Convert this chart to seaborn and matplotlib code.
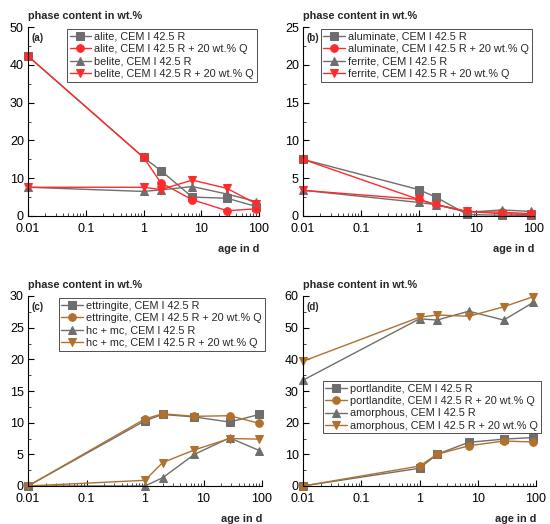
import matplotlib
matplotlib.use("Agg")
import matplotlib.pyplot as plt
import matplotlib.ticker as mticker
import seaborn as sns
import pandas as pd

sns.set_theme(style="ticks")
plt.rcParams['font.family'] = ['Liberation Sans', 'DejaVu Sans']

age = [0.01, 1, 2, 7, 28, 90]

# (a)
alite_cem = [42.3, 15.5, 12.0, 5.0, 4.7, 2.5]
alite_q = [42.3, 15.5, 8.8, 4.3, 1.4, 1.9]
belite_cem = [7.6, 6.5, 6.9, 7.8, 5.8, 3.8]
belite_q = [7.6, 7.6, 7.0, 9.5, 7.3, 3.2]
# (b)
alum_cem = [7.5, 3.5, 2.5, 0.2, 0.1, 0.1]
alum_q = [7.5, 2.2, 1.5, 0.6, 0.5, 0.3]
ferr_cem = [3.4, 1.8, 1.5, 0.5, 0.8, 0.6]
ferr_q = [3.4, 2.2, 1.5, 0.6, 0.3, 0.2]
# (c)
ettr_cem = [0.0, 10.3, 11.3, 10.9, 10.1, 11.3]
ettr_q = [0.0, 10.6, 11.4, 11.0, 11.1, 9.9]
hcmc_cem = [0.0, 0.0, 1.3, 5.0, 7.6, 5.6]
hcmc_q = [0.0, 0.9, 3.7, 5.7, 7.5, 7.4]
# (d)
port_cem = [0.0, 5.6, 10.0, 13.8, 14.8, 15.3]
port_q = [0.0, 6.3, 10.0, 12.7, 14.2, 13.9]
amor_cem = [33.4, 52.8, 52.4, 55.2, 52.4, 58.0]
amor_q = [39.4, 53.3, 54.0, 53.6, 56.6, 59.8]

GRAY = "#6e6e6e"
RED = "#ff2b2b"
BROWN = "#b0712e"

panels = [
    dict(tag="(a)", ymax=50, major=10, minor=5, pos=[28/550, 1-216/524, 231/550, 189/524],
         series=[("alite, CEM I 42.5 R", alite_cem, GRAY, "s"),
                 ("alite, CEM I 42.5 R + 20 wt.% Q", alite_q, RED, "o"),
                 ("belite, CEM I 42.5 R", belite_cem, GRAY, "^"),
                 ("belite, CEM I 42.5 R + 20 wt.% Q", belite_q, RED, "v")],
         leg=dict(loc="upper right", bbox_to_anchor=(1.0, 1.0))),
    dict(tag="(b)", ymax=25, major=5, minor=2.5, pos=[303/550, 1-216/524, 231/550, 189/524],
         series=[("aluminate, CEM I 42.5 R", alum_cem, GRAY, "s"),
                 ("aluminate, CEM I 42.5 R + 20 wt.% Q", alum_q, RED, "o"),
                 ("ferrite, CEM I 42.5 R", ferr_cem, GRAY, "^"),
                 ("ferrite, CEM I 42.5 R + 20 wt.% Q", ferr_q, RED, "v")],
         leg=dict(loc="upper right", bbox_to_anchor=(1.0, 1.0))),
    dict(tag="(c)", ymax=30, major=5, minor=2.5, pos=[28/550, 1-486/524, 234/550, 190/524],
         series=[("ettringite, CEM I 42.5 R", ettr_cem, GRAY, "s"),
                 ("ettringite, CEM I 42.5 R + 20 wt.% Q", ettr_q, BROWN, "o"),
                 ("hc + mc, CEM I 42.5 R", hcmc_cem, GRAY, "^"),
                 ("hc + mc, CEM I 42.5 R + 20 wt.% Q", hcmc_q, BROWN, "v")],
         leg=dict(loc="upper right", bbox_to_anchor=(1.02, 1.0))),
    dict(tag="(d)", ymax=60, major=10, minor=5, pos=[303/550, 1-486/524, 233/550, 190/524],
         series=[("portlandite, CEM I 42.5 R", port_cem, GRAY, "s"),
                 ("portlandite, CEM I 42.5 R + 20 wt.% Q", port_q, BROWN, "o"),
                 ("amorphous, CEM I 42.5 R", amor_cem, GRAY, "^"),
                 ("amorphous, CEM I 42.5 R + 20 wt.% Q", amor_q, BROWN, "v")],
         leg=dict(loc="upper left", bbox_to_anchor=(0.075, 0.565))),
]

fig = plt.figure(figsize=(5.5, 5.24), dpi=100)
FS = 7.8

for p in panels:
    ax = fig.add_axes(p["pos"])
    for label, vals, col, mk in p["series"]:
        df = pd.DataFrame({"age": age, "val": vals})
        sns.lineplot(data=df, x="age", y="val", ax=ax, color=col, marker=mk,
                     markersize=5.5, markeredgecolor=col, linewidth=1.0, label=label,
                     errorbar=None, sort=False, clip_on=False)
    ax.set_xscale("log")
    ax.set_xlim(0.01, 100)
    ax.set_ylim(0, p["ymax"])
    ax.xaxis.set_major_locator(mticker.FixedLocator([0.01, 0.1, 1, 10, 100]))
    ax.xaxis.set_major_formatter(mticker.FixedFormatter(["0.01", "0.1", "1", "10", "100"]))
    ax.xaxis.set_minor_locator(mticker.LogLocator(base=10, subs=range(2, 10)))
    ax.xaxis.set_minor_formatter(mticker.NullFormatter())
    ax.yaxis.set_major_locator(mticker.MultipleLocator(p["major"]))
    ax.yaxis.set_minor_locator(mticker.MultipleLocator(p["minor"]))
    ax.tick_params(axis="both", which="major", direction="in", length=4, width=0.8,
                   labelsize=9, colors="black")
    ax.tick_params(axis="x", which="major", pad=5)
    ax.tick_params(axis="y", which="major", pad=3)
    ax.tick_params(axis="both", which="minor", direction="in", length=2, width=0.6)
    for s in ["top", "right"]:
        ax.spines[s].set_visible(False)
    for s in ["left", "bottom"]:
        ax.spines[s].set_color("black")
        ax.spines[s].set_linewidth(0.8)
    ax.set_xlabel("")
    ax.set_ylabel("")
    ax.text(0.0, 1.03, "phase content in wt.%", transform=ax.transAxes, ha="left",
            va="bottom", fontsize=FS, fontweight="bold")
    ax.text(1.0, -0.15, "age in d", transform=ax.transAxes, ha="right", va="top",
            fontsize=FS, fontweight="bold")
    ax.text(0.015, 0.97, p["tag"], transform=ax.transAxes, ha="left", va="top",
            fontsize=7, fontweight="bold")
    leg = ax.legend(fontsize=FS, frameon=True, fancybox=False, borderpad=0.25,
                    labelspacing=0.22, handlelength=2.0, handletextpad=0.3,
                    borderaxespad=0.2, **p["leg"])
    leg.set_zorder(5)
    leg.get_frame().set_edgecolor("black")
    leg.get_frame().set_linewidth(0.6)

fig.savefig("out.png", dpi=100)
